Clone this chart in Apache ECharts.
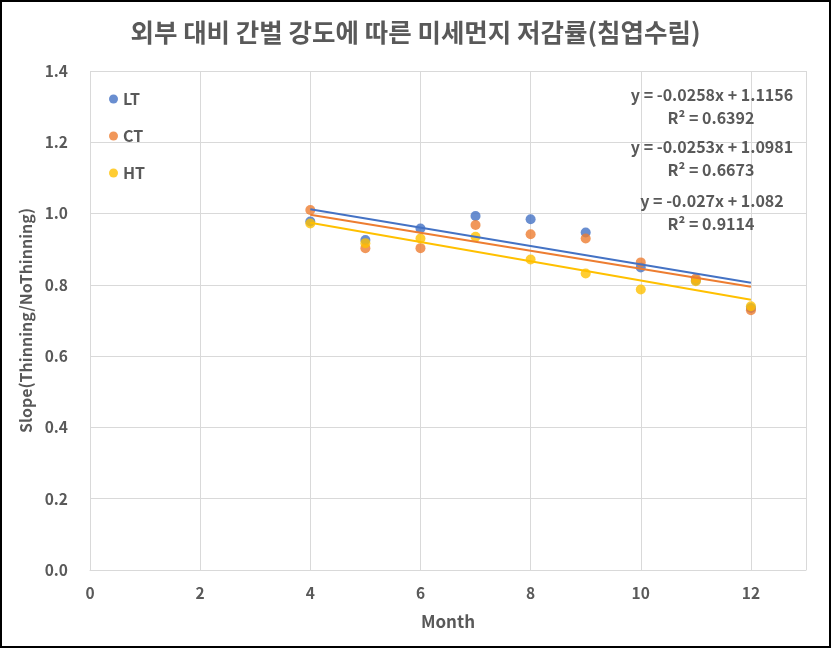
<!DOCTYPE html>
<html>
<head>
<meta charset="utf-8">
<script src="https://cdn.jsdelivr.net/npm/echarts@6/dist/echarts.min.js"></script>
<style>
html,body{margin:0;padding:0;background:#fff;}
#c{width:831px;height:648px;box-sizing:border-box;border:2px solid #000;}
</style>
</head>
<body>
<div id="c"></div>
<script>
const months = [4, 5, 6, 7, 8, 9, 10, 11, 12];
const LT = [0.978, 0.926, 0.958, 0.993, 0.984, 0.947, 0.849, 0.812, 0.735];
const CT = [1.010, 0.903, 0.903, 0.968, 0.942, 0.930, 0.863, 0.818, 0.729];
const HT = [0.972, 0.917, 0.930, 0.935, 0.871, 0.832, 0.787, 0.810, 0.740];
const seriesNames = ['LT', 'CT', 'HT'];
const colors = ['#4472C4', '#ED7D31', '#FFC000'];
const slopes = [-0.0258, -0.0253, -0.027];
const intercepts = [1.1156, 1.0981, 1.082];
const eqTexts = ['y = -0.0258x + 1.1156', 'y = -0.0253x + 1.0981', 'y = -0.027x + 1.082'];
const r2Texts = ['R² = 0.6392', 'R² = 0.6673', 'R² = 0.9114'];
const yTicks = [0, 0.2, 0.4, 0.6, 0.8, 1.0, 1.2, 1.4];

const allData = [LT, CT, HT];
const font = '"Noto Sans CJK KR", "Noto Sans", sans-serif';
const textColor = '#595959';

const scatterSeries = allData.map((vals, i) => ({
  name: seriesNames[i],
  type: 'scatter',
  symbolSize: 10,
  itemStyle: {color: colors[i]},
  data: months.map((m, j) => [m, vals[j]]),
  z: 2
}));
const x0 = months[0], x1 = months[months.length - 1];
const trendSeries = allData.map((vals, i) => ({
  name: seriesNames[i] + ' trend',
  type: 'line',
  symbol: 'none',
  lineStyle: {color: colors[i], width: 2},
  data: [[x0, slopes[i] * x0 + intercepts[i]], [x1, slopes[i] * x1 + intercepts[i]]],
  z: 3,
  silent: true
}));

const eqY = [93, 145, 199];
const graphics = [];
eqTexts.forEach((t, i) => {
  graphics.push({type: 'text', x: 710, y: eqY[i], z: 10, style: {text: t, fill: textColor, font: 'bold 16px ' + font, textAlign: 'center', textVerticalAlign: 'middle'}});
  graphics.push({type: 'text', x: 709, y: eqY[i] + 23, z: 10, style: {text: r2Texts[i], fill: textColor, font: 'bold 16px ' + font, textAlign: 'center', textVerticalAlign: 'middle'}});
});

const chart = echarts.init(document.getElementById('c'));
chart.setOption({
  animation: false,
  backgroundColor: '#fff',
  title: {
    text: '외부 대비 간벌 강도에 따른 미세먼지 저감률(침엽수림)',
    left: 'center',
    top: 13,
    textStyle: {fontFamily: font, fontSize: 25.5, fontWeight: 'bold', color: textColor}
  },
  legend: {
    data: seriesNames,
    orient: 'vertical',
    left: 102,
    top: 84,
    itemGap: 21,
    itemWidth: 9,
    itemHeight: 9,
    icon: 'circle',
    textStyle: {fontFamily: font, fontSize: 16, fontWeight: 'bold', color: textColor, padding: [0, 0, 0, 0]}
  },
  grid: {left: 88, right: 23, top: 69, bottom: 76, containLabel: false},
  xAxis: {
    type: 'value',
    min: 0, max: 13, interval: 2,
    name: 'Month',
    nameLocation: 'middle',
    nameGap: 43,
    nameTextStyle: {fontFamily: font, fontSize: 17, fontWeight: 'bold', color: textColor},
    axisLine: {show: true, lineStyle: {color: '#d9d9d9'}},
    axisTick: {show: false},
    splitLine: {show: true, lineStyle: {color: '#d9d9d9'}},
    axisLabel: {fontFamily: font, fontSize: 15.5, fontWeight: 'bold', color: textColor, margin: 15, showMaxLabel: false}
  },
  yAxis: {
    type: 'value',
    min: yTicks[0], max: yTicks[yTicks.length - 1], interval: 0.2,
    name: 'Slope(Thinning/NoThinning)',
    nameLocation: 'middle',
    nameGap: 55,
    nameTextStyle: {fontFamily: font, fontSize: 16, fontWeight: 'bold', color: textColor},
    axisLine: {show: false},
    axisTick: {show: false},
    splitLine: {show: true, lineStyle: {color: '#d9d9d9'}},
    axisLabel: {fontFamily: font, fontSize: 15.5, fontWeight: 'bold', color: textColor, margin: 22, formatter: v => v.toFixed(1)}
  },
  graphic: graphics,
  series: [...scatterSeries, ...trendSeries]
});
</script>
</body>
</html>
